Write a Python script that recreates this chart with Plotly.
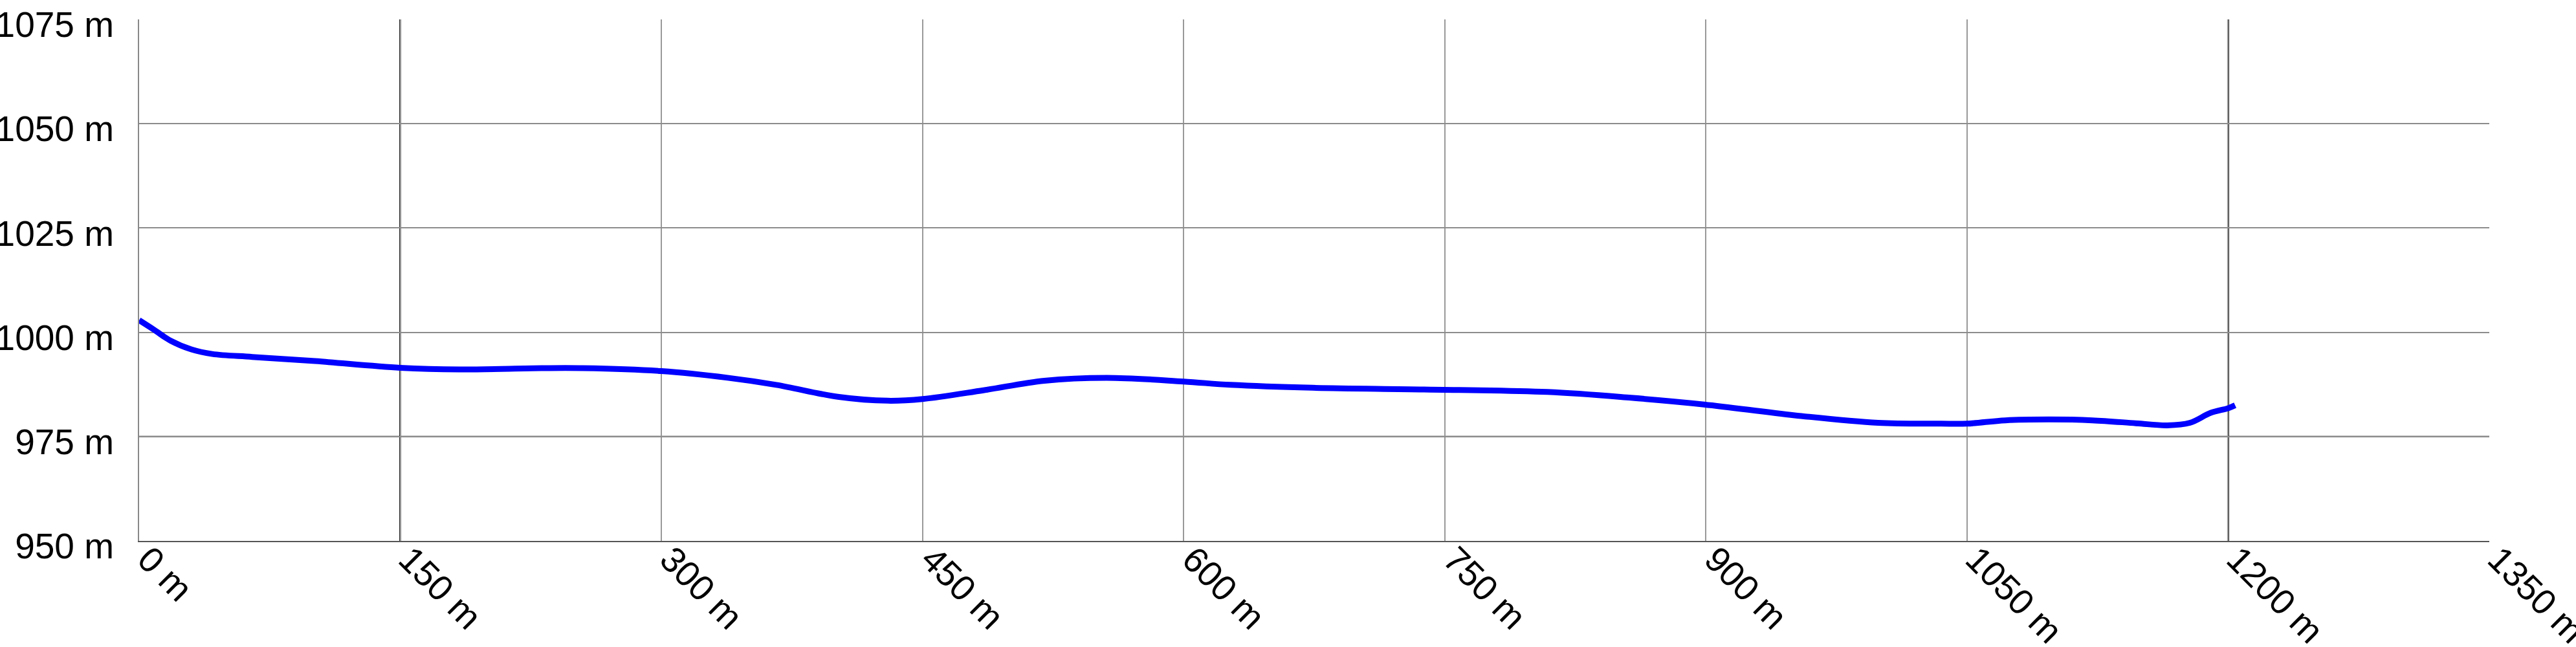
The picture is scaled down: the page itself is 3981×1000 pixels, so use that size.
import plotly.graph_objects as go

# Distance along route (m) and elevation (m)
distance_m = [0, 8.6, 18, 30, 42, 65, 101, 150, 184, 231, 255, 300, 338, 366,
              402, 430, 450, 485, 520, 556, 600, 627, 674, 738, 809, 857, 899,
              951, 999, 1035, 1050, 1072, 1097, 1122, 1147, 1165, 1178, 1190,
              1200, 1204]
elevation_m = [1002.9, 1000.6, 998.0, 995.9, 994.8, 994.1, 993.1, 991.5, 991.1,
               991.4, 991.4, 990.7, 989.1, 987.4, 984.5, 983.6, 984.0, 986.1,
               988.4, 989.1, 988.2, 987.4, 986.7, 986.3, 985.7, 984.3, 982.7,
               980.1, 978.3, 978.1, 978.1, 978.9, 979.1, 978.9, 978.2, 977.7,
               978.3, 980.7, 981.8, 982.5]

x_ticks = [0, 150, 300, 450, 600, 750, 900, 1050, 1200, 1350]
x_tick_labels = [f"{v} m" for v in x_ticks]
y_ticks = [950, 975, 1000, 1025, 1050, 1075]
y_tick_labels = [f"{v} m" for v in y_ticks]

FONT = "Liberation Sans, Arial, sans-serif"

fig = go.Figure()
fig.add_trace(go.Scatter(
    x=distance_m, y=elevation_m, mode="lines",
    line=dict(color="#0000ff", width=9, shape="spline", smoothing=1.0),
    hoverinfo="skip", showlegend=False,
))

# darker rendered grid lines as seen in the reference
for xv in (150, 1200):
    fig.add_shape(type="line", xref="x", yref="paper", x0=xv, x1=xv, y0=0, y1=1,
                  line=dict(color="#1a1a1a", width=3), layer="between")
fig.add_shape(type="line", xref="paper", yref="y", x0=0, x1=1, y0=975, y1=975,
              line=dict(color="#000000", width=2), layer="between")

fig.update_layout(
    width=3981, height=1000,
    margin=dict(l=215, r=134, t=30, b=164, autoexpand=False),
    paper_bgcolor="white", plot_bgcolor="white",
    font=dict(family=FONT, size=55, color="black"),
    showlegend=False,
    modebar=dict(bgcolor="rgba(0,0,0,0)", color="rgba(0,0,0,0)",
                 activecolor="rgba(0,0,0,0)"),
)
fig.update_xaxes(
    range=[0, 1350], tickvals=x_ticks, ticktext=x_tick_labels, tickangle=45,
    showgrid=True, gridcolor="#999999", gridwidth=1.5, zeroline=False,
    showline=True, linecolor="#555555", linewidth=2, mirror=False,
    ticks="", ticklabelstandoff=-28, ticklabelshift=14,
    ticklabeloverflow="allow",
    tickfont=dict(family=FONT, size=55, color="black"),
)
fig.update_yaxes(
    range=[950, 1075], tickvals=y_ticks, ticktext=y_tick_labels,
    showgrid=True, gridcolor="#8c8c8c", gridwidth=1.5, zeroline=False,
    showline=True, linecolor="#888888", linewidth=2,
    ticks="", ticklabelstandoff=26, ticklabelshift=8,
    tickfont=dict(family=FONT, size=55, color="black"),
)

fig.write_html(
    "out.html",
    post_script=(
        "document.body.style.margin='0';"
        "document.body.style.overflow='hidden';"
        "document.querySelectorAll('.modebar-container').forEach(function(e){e.style.display='none';});"
    ),
)
